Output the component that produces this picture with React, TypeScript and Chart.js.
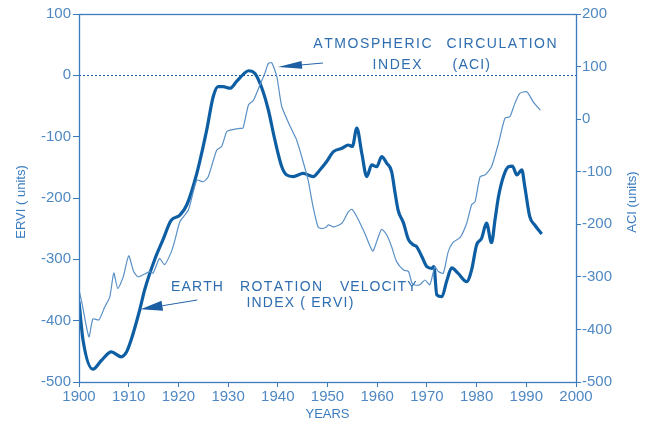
import { useEffect, useRef } from 'react';
import { Chart, registerables } from 'chart.js';

Chart.register(...registerables);

// ---- data ----
const ERVI_YEARS = [
  1900, 1900.8, 1902.8, 1904.5, 1906.5, 1908.5, 1909.5, 1910.5, 1912.2, 1913.2, 1915.2, 1916.9, 1918.5,
  1920.3, 1921.7, 1923.7, 1925.7, 1927, 1928, 1929, 1930.4, 1931.7, 1933.1, 1934.1, 1935.4, 1936.8,
  1938.1, 1939.4, 1940.8, 1941.8, 1943.1, 1945.1, 1947.1, 1948.5, 1949.8, 1951.2, 1952.9, 1954.2,
  1955, 1955.9, 1956.9, 1957.9, 1958.9, 1959.9, 1960.9, 1961.9, 1962.9, 1963.6, 1964.2, 1965.3,
  1966.3, 1967.3, 1967.9, 1969, 1970, 1971, 1971.4, 1972, 1973, 1974, 1975, 1976.3, 1978, 1979,
  1980, 1981, 1982, 1983, 1983.7, 1984.4, 1985.4, 1986.4, 1987.2, 1988.1, 1989.1, 1989.7, 1990.7,
  1991.7, 1993.1,
];
const ERVI_VALUES = [
  -369, -431, -479, -465, -451, -459, -452, -431, -383, -350, -301, -268, -237,
  -228, -211, -160, -89, -35, -18.5, -18.5, -21, -10, 2, 7.5, 3, -21,
  -56.5, -105, -149, -162.5, -165, -160, -165, -154, -141, -124.5, -119, -113.6,
  -116, -86, -127, -165, -146, -149, -132.7, -143, -157, -192, -219.6, -241,
  -268, -276.6, -279, -295.7, -312, -314.7, -312, -358, -361, -335, -314, -323, -336.5, -317,
  -276.6, -265.7, -241, -273, -236, -198, -165, -149, -148, -162.5, -154, -181.6, -230.5,
  -244, -258.7,
];

const ACI_YEARS = [
  1900, 1900.6, 1902, 1902.8, 1904, 1905.2, 1906.2, 1907, 1907.8, 1908.9, 1910, 1911, 1911.9,
  1914.2, 1914.9, 1916.2, 1917.2, 1918.6, 1919.3, 1920.3, 1922, 1923.7, 1925, 1926, 1927.7,
  1928.7, 1929.7, 1930.4, 1932.4, 1933, 1934.1, 1935.1, 1936.4, 1937.4, 1938.1, 1938.8, 1939.8,
  1940.8, 1942.5, 1943.8, 1944.8, 1946.1, 1947.1, 1948.1, 1948.8, 1949.8, 1950.2, 1951.2, 1952.9,
  1954.2, 1954.9, 1955.9, 1957.5, 1959.1, 1960, 1960.9, 1961.9, 1962.9, 1963.9, 1965.3, 1966.3,
  1967, 1967.6, 1968.6, 1969.6, 1970.6, 1971.6, 1972.3, 1973.3, 1974.3, 1975.3, 1976.7, 1978,
  1979, 1979.7, 1980.7, 1981.7, 1983, 1984.4, 1985.7, 1986.7, 1987.7, 1988.7, 1990.1, 1991.4,
  1992.8,
];
const ACI_VALUES = [
  -325, -350, -414, -380, -382, -357, -338, -293, -322, -300, -260, -290, -300,
  -290, -293, -265, -277, -252, -230, -195, -173, -116, -119, -109.5, -59,
  -52, -24, -21, -17.5, -17, 27, 36, 65, 87, 106, 107, 81,
  24, -14, -40, -71, -116, -167, -205, -208, -205, -201, -205, -198,
  -176, -171.5, -185.6, -217, -251, -230, -209.6, -220, -242.6, -271, -287, -290,
  -312, -315.5, -315, -306, -315, -280.7, -290, -293, -252, -234, -225, -198,
  -163, -157, -109.5, -106, -90.5, -46, 1.6, 4.8, 30, 49, 52, 33,
  17,
];

const YEAR_TICKS = [1900, 1910, 1920, 1930, 1940, 1950, 1960, 1970, 1980, 1990, 2000];
const ERVI_TICKS = [100, 0, -100, -200, -300, -400, -500];
const ACI_TICKS = [200, 100, 0, -100, -200, -300, -400, -500];

// annotation text: [text, startYear, endYear, erviValue]
const LABELS: [string, number, number, number][] = [
  ['ATMOSPHERIC', 1947.14, 1970.96, 52.2],
  ['CIRCULATION', 1973.96, 1996.1, 52.2],
  ['INDEX', 1959.07, 1968.93, 18.5],
  ['(ACI)', 1975.17, 1982.7, 18.5],
  ['EARTH', 1918.5, 1928.97, -343.5],
  ['ROTATION', 1932.4, 1948.9, -343.5],
  ['VELOCITY', 1952.5, 1967.9, -343.5],
  ['INDEX ( ERVI)', 1933.7, 1955.2, -369.1],
];
// arrows: [tailYear, tailValue, tipYear, tipValue]
const ARROWS: [number, number, number, number][] = [
  [1949.1, 20.1, 1940.04, 13.6],
  [1923.8, -366.3, 1912.4, -381.5],
];

const FONT = "'Liberation Sans', Arial, Helvetica, sans-serif";
const DARK = '#0e5ea4';
const LIGHT = '#5990c6';
const TICK = '#4f88c2';
const AXIS = '#3d7cbc';
const TEXT = '#2e6db0';

const overlay = {
  id: 'overlay',
  beforeDatasetsDraw(chart: any) {
    const { ctx, chartArea } = chart;
    const y0 = Math.round(chart.scales.y.getPixelForValue(0)) + 0.5;
    ctx.save();
    ctx.strokeStyle = '#1d5c9e';
    ctx.lineWidth = 1;
    ctx.setLineDash([2, 2]);
    ctx.beginPath();
    ctx.moveTo(chartArea.left, y0);
    ctx.lineTo(chartArea.right, y0);
    ctx.stroke();
    ctx.restore();
  },
  afterDraw(chart: any) {
    const { ctx, chartArea } = chart;
    const xs = chart.scales.x;
    const ys = chart.scales.y;
    ctx.save();
    // frame
    ctx.strokeStyle = AXIS;
    ctx.lineWidth = 1.3;
    ctx.strokeRect(
      Math.round(chartArea.left) + 0.5,
      Math.round(chartArea.top) + 0.5,
      Math.round(chartArea.right - chartArea.left),
      Math.round(chartArea.bottom - chartArea.top)
    );

    // axis titles
    ctx.fillStyle = '#3a7cc0';
    ctx.font = `13px ${FONT}`;
    ctx.textAlign = 'center';
    ctx.textBaseline = 'middle';
    const midY = (chartArea.top + chartArea.bottom) / 2;
    ctx.save();
    ctx.translate(21, midY + 4);
    ctx.rotate(-Math.PI / 2);
    ctx.fillText('ERVI ( units)', 0, 0);
    ctx.restore();
    ctx.save();
    ctx.translate(chart.width - 14, midY + 4);
    ctx.rotate(-Math.PI / 2);
    ctx.fillText('ACI (units)', 0, 0);
    ctx.restore();
    ctx.fillText('YEARS', (chartArea.left + chartArea.right) / 2, chart.height - 9);

    // annotation labels
    ctx.fillStyle = TEXT;
    ctx.font = `14px ${FONT}`;
    ctx.textAlign = 'left';
    for (const [text, y1, y2, v] of LABELS) {
      const x1 = xs.getPixelForValue(y1);
      const x2 = xs.getPixelForValue(y2);
      const py = ys.getPixelForValue(v);
      const chars = text.split('');
      const widths = chars.map((c) => ctx.measureText(c).width);
      const natural = widths.reduce((a, b) => a + b, 0);
      const ls = chars.length > 1 ? (x2 - x1 - natural) / (chars.length - 1) : 0;
      let x = x1;
      chars.forEach((c, i) => {
        ctx.fillText(c, x, py + 1);
        x += widths[i] + ls;
      });
    }

    // arrows
    ctx.strokeStyle = '#2563a6';
    ctx.fillStyle = '#1e5ea2';
    ctx.lineWidth = 1;
    ARROWS.forEach(([ty, tv, hy, hv], i) => {
      const tx = xs.getPixelForValue(ty);
      const tyy = ys.getPixelForValue(tv);
      const hx = xs.getPixelForValue(hy);
      const hyy = ys.getPixelForValue(hv);
      const ang = Math.atan2(hyy - tyy, hx - tx);
      const len = i === 0 ? 24 : 22;
      const half = i === 0 ? 4 : 5;
      const bx = hx - Math.cos(ang) * len;
      const by = hyy - Math.sin(ang) * len;
      ctx.beginPath();
      ctx.moveTo(tx, tyy);
      ctx.lineTo(bx, by);
      ctx.stroke();
      ctx.beginPath();
      ctx.moveTo(hx, hyy);
      ctx.lineTo(bx - Math.sin(ang) * half, by + Math.cos(ang) * half);
      ctx.lineTo(bx + Math.sin(ang) * half, by - Math.cos(ang) * half);
      ctx.closePath();
      ctx.fill();
    });
    ctx.restore();
  },
};

export default function App() {
  const ref = useRef<HTMLCanvasElement | null>(null);
  useEffect(() => {
    document.body.style.margin = '0';
    const canvas = ref.current;
    if (!canvas) return;
    const chart = new Chart(canvas, {
      type: 'line',
      data: {
        datasets: [
          {
            label: 'ACI',
            data: ACI_YEARS.map((x, i) => ({ x, y: ACI_VALUES[i] })),
            yAxisID: 'y2',
            borderColor: LIGHT,
            borderWidth: 1.2,
            pointRadius: 0,
            tension: 0.2,
            fill: false,
          },
          {
            label: 'ERVI',
            data: ERVI_YEARS.map((x, i) => ({ x, y: ERVI_VALUES[i] })),
            yAxisID: 'y',
            borderColor: DARK,
            borderWidth: 3.2,
            pointRadius: 0,
            tension: 0.35,
            cubicInterpolationMode: 'monotone',
            fill: false,
          },
        ],
      },
      options: {
        responsive: false,
        animation: false,
        devicePixelRatio: 1,
        layout: { padding: { top: 14, left: 0, right: 0, bottom: 0 } },
        plugins: { legend: { display: false }, tooltip: { enabled: false } },
        scales: {
          x: {
            type: 'linear',
            min: 1900,
            max: 2000,
            afterBuildTicks: (s: any) => {
              s.ticks = YEAR_TICKS.map((v) => ({ value: v }));
            },
            afterFit: (s: any) => {
              s.height = 41;
            },
            grid: { display: true, drawOnChartArea: false, drawTicks: true, tickLength: 5, color: AXIS },
            border: { display: false },
            ticks: { color: TICK, font: { family: FONT, size: 15 }, padding: 1, maxRotation: 0, callback: (v: any) => String(v) },
          },
          y: {
            type: 'linear',
            position: 'left',
            min: -500,
            max: 100,
            afterBuildTicks: (s: any) => {
              s.ticks = ERVI_TICKS.map((v) => ({ value: v }));
            },
            afterFit: (s: any) => {
              s.width = 79;
            },
            grid: { display: true, drawOnChartArea: false, drawTicks: true, tickLength: 6, color: AXIS },
            border: { display: false },
            ticks: { color: TICK, font: { family: FONT, size: 15 }, padding: 2 },
          },
          y2: {
            type: 'linear',
            position: 'right',
            min: -500,
            max: 200,
            afterBuildTicks: (s: any) => {
              s.ticks = ACI_TICKS.map((v) => ({ value: v }));
            },
            afterFit: (s: any) => {
              s.width = 70;
            },
            grid: { display: true, drawOnChartArea: false, drawTicks: true, tickLength: 5, color: AXIS },
            border: { display: false },
            ticks: { color: TICK, font: { family: FONT, size: 15 }, padding: 1 },
          },
        },
      } as any,
      plugins: [overlay],
    });
    return () => chart.destroy();
  }, []);
  return <canvas ref={ref} width={646} height={423} style={{ display: 'block' }} />;
}
